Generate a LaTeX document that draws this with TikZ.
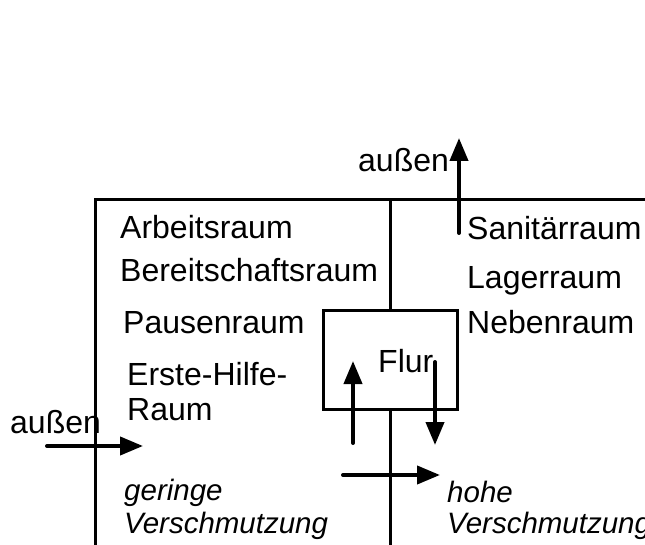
\documentclass[tikz,border=0pt]{standalone}
\usepackage{fontspec}
\setmainfont{Liberation Sans}
\usetikzlibrary{arrows.meta}
\begin{document}
\begin{tikzpicture}[x=1pt,y=-1pt,
  wall/.style={line width=3pt},
  flow/.style={line width=4pt,line cap=round,-{Triangle[length=23pt,width=18pt]}},
  lbl/.style={anchor=base west,inner sep=0pt,font=\fontsize{32}{38}\selectfont},
  ilbl/.style={lbl,font=\fontsize{29.5}{35}\selectfont\itshape}]
\useasboundingbox (0,0) rectangle (645,545);
% walls
\coordinate (tl) at (95,200);
\coordinate (tr) at (646,200);
\coordinate (bl) at (95,545);
\coordinate (mt) at (390,200);
\coordinate (mb) at (390,545);
\node[draw,wall,minimum width=134pt,minimum height=99pt,inner sep=0pt] (flur) at (390,359.5) {};
\draw[wall] (tr) -- (tl) -- (bl);
\draw[wall] (mt) -- (flur.north);
\draw[wall] (flur.south) -- (mb);
% labels
\node[lbl] (arb) at (120,239) {Arbeitsraum};
\node[lbl] (ber) at (120,282) {Bereitschaftsraum};
\node[lbl] (pau) at (123,334) {Pausenraum};
\node[lbl] (ers) at (127,385) {Erste-Hilfe-};
\node[lbl] (rau) at (127,420) {Raum};
\node[lbl] (aus1) at (10,433) {außen};
\node[ilbl] (ger) at (124,500) {geringe};
\node[ilbl] (ver1) at (124,533) {Verschmutzung};
\node[lbl] (san) at (467,240) {Sanitärraum};
\node[lbl] (lag) at (467,288) {Lagerraum};
\node[lbl] (neb) at (467,333) {Nebenraum};
\node[lbl] (flt) at (378,372) {Flur};
\node[ilbl] (hoh) at (447,502) {hohe};
\node[ilbl] (ver2) at (447,533) {Verschmutzung};
\node[lbl] (aus2) at (358,172) {außen};
% arrows
\coordinate (a1s) at (47,446);
\coordinate (a1e) at (143,446);
\draw[flow] (a1s) -- (a1e);
\coordinate (a2s) at (459,233);
\coordinate (a2e) at (459,138);
\draw[flow] (a2s) -- (a2e);
\coordinate (a3s) at (353,443);
\coordinate (a3e) at (353,361);
\draw[flow] (a3s) -- (a3e);
\coordinate (a4s) at (435,362);
\coordinate (a4e) at (435,445);
\draw[flow] (a4s) -- (a4e);
\coordinate (a5s) at (343,475);
\coordinate (a5e) at (440,475);
\draw[flow] (a5s) -- (a5e);
\end{tikzpicture}
\end{document}
